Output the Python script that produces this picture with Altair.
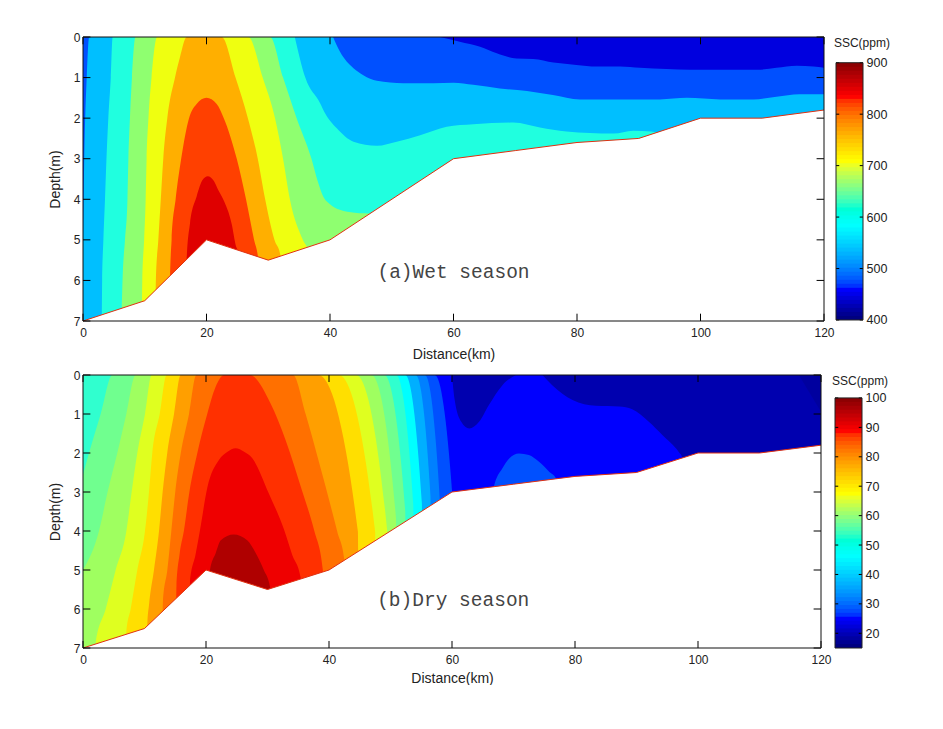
import altair as alt
import numpy as np
import pandas as pd

SANS = "Liberation Sans"
INK = "#222222"

X_TICKS = [0, 20, 40, 60, 80, 100, 120]
D_TICKS = [0, 1, 2, 3, 4, 5, 6, 7]
BED_X = [0, 10, 20, 30, 40, 60, 70, 80, 90, 100, 110, 120]
BED_D = [7, 6.5, 5, 5.5, 5, 3, 2.8, 2.6, 2.5, 2, 2, 1.8]

# ---- wet season: regions painted downwards to the bed
W_BASE_X = [0, 120]
W_BASE_D = [0, 0]
W1_X = [0, 0.2, 0.6, 1.0, 120]
W1_D = [5, 3, 1, 0, 0]
W2_X = [3.0, 3.05, 3.1, 3.3, 3.56, 3.8, 4.1, 4.5, 4.8, 120]
W2_D = [7, 6.8, 6, 5, 4, 3, 2, 1, 0, 0]
W3_X = [6.2, 6.27, 6.4, 6.8, 7.2, 7.35, 7.6, 7.93, 8.5, 30.3, 32.4, 34.6, 37, 38, 38.9, 40, 41.6, 44, 47, 47.1]
W3_D = [7, 6.7, 6, 5, 4, 3, 2, 1, 0, 0, 1, 2, 3, 3.55, 3.93, 4.12, 4.26, 4.33, 4.36, 7]
W4_X = [9.5, 9.6, 9.9, 10.15, 10.3, 10.6, 11.1, 12.0, 26.77, 29.1, 31.1, 32.4, 33.5, 35.6, 36.5, 36.6]
W4_D = [7, 6, 5, 4, 3, 2, 1, 0, 0, 1, 2, 3, 4, 5, 5.3, 7]
W5_X = [11.7, 11.8, 12.2, 12.6, 13.0, 13.65, 14.9, 15.7, 16.8, 22.46, 24.7, 26.7, 28.3, 29.5, 31.0, 32, 32.1]
W5_D = [7, 6, 5, 4, 3, 2, 1, 0.5, 0, 0, 1, 2, 3, 4, 5, 5.4, 7]
W6_X = [14.0, 14.09, 14.35, 15.0, 15.9, 17.17, 18.4, 20, 21.65, 22.8, 24.9, 26.4, 27.7, 28.4, 28.5]
W6_D = [7, 6, 5, 4, 3, 2, 1.65, 1.5, 1.65, 2, 3, 4, 5, 5.5, 7]
W7_X = [16.7, 16.79, 17.33, 18.4, 19.38, 20.2, 21.2, 21.9, 22.7, 24.07, 24.78, 25.1, 25.2]
W7_D = [7, 5.45, 4.59, 3.93, 3.52, 3.43, 3.55, 3.77, 4.0, 4.6, 5.16, 5.3, 7]
W_COLORS = ["#0050ff", "#00bfff", "#20ffdf", "#8fff70", "#efff10", "#ffaf00", "#ff4000", "#df0000"]

# ---- wet season: regions painted from the surface down to a curve
W8_X = [34.3, 36, 38.4, 39.2, 41.1, 43.8, 47.6, 50.8, 54.6, 58.9, 63.2, 69.7, 74, 78.3, 85.9, 89.1, 92, 95, 120]
W8_D = [0, 1, 1.63, 1.88, 2.25, 2.58, 2.68, 2.58, 2.42, 2.21, 2.15, 2.11, 2.23, 2.33, 2.38, 2.31, 2.33, 2.4, 2.4]
W9_X = [40.5, 41.6, 43.8, 45.4, 47.6, 51.9, 56.7, 60, 63.2, 67.5, 71.9, 76.1, 80.5, 87, 93.4, 97.8, 103.2, 108.6, 112.3, 116, 120]
W9_D = [0, 0.36, 0.77, 0.94, 1.08, 1.14, 1.14, 1.13, 1.18, 1.27, 1.33, 1.43, 1.54, 1.54, 1.54, 1.5, 1.54, 1.54, 1.47, 1.41, 1.41]
W10_X = [57.8, 61, 64.3, 67, 70.2, 72.9, 76.2, 79.9, 83.2, 87, 90.2, 94.5, 98.3, 103.2, 109.1, 112.3, 115.6, 118.3, 120]
W10_D = [0, 0.115, 0.24, 0.4, 0.53, 0.54, 0.63, 0.69, 0.73, 0.73, 0.76, 0.79, 0.81, 0.81, 0.81, 0.76, 0.71, 0.73, 0.76]
W_TOP_COLORS = ["#00bfff", "#0050ff", "#0000df"]

# ---- dry season: regions painted downwards to the bed
D0_X = [0, 120]
D0_D = [0, 0]
D1_X = [0, 57.2, 60, 60.1]
D1_D = [0, 0, 2.97, 7]
D2_X = [0, 55.6, 58, 58.1]
D2_D = [0, 0, 3.16, 7]
D3_X = [0, 54.1, 56.5, 56.6]
D3_D = [0, 0, 3.12, 7]
D4_X = [0, 52.4, 55.1, 55.2]
D4_D = [0, 0, 3.29, 7]
D5_X = [0, 50.9, 53.7, 53.8]
D5_D = [0, 0, 3.33, 7]
D6_X = [0, 0.98, 2.87, 4.77, 49, 52.4, 52.5]
D6_D = [2.55, 2, 1, 0, 0, 3.5, 7]
D7_X = [0, 2.6, 4, 5.58, 7.05, 8.56, 46.9, 50.9, 51]
D7_D = [5, 4, 3, 2, 1, 0, 0, 3.68, 7]
D8_X = [2.0, 2.06, 3.69, 5.31, 7.05, 7.91, 8.83, 10.08, 11.16, 44.4, 49.5, 49.6]
D8_D = [7, 6.88, 6, 5, 4, 3, 2, 1, 0, 0, 4.05, 7]
D9_X = [7.0, 7.05, 7.75, 8.83, 10.08, 10.73, 11.27, 12.47, 13.6, 41.6, 47.5, 47.6]
D9_D = [7, 6.6, 6, 5, 4, 3, 2, 1, 0, 0, 4.02, 7]
D10_X = [10.4, 10.46, 10.73, 11.54, 12.36, 12.95, 13.7, 14.8, 15.88, 38.26, 44.7, 44.8]
D10_D = [7, 6.4, 5.9, 5, 4, 3, 2, 1, 0, 0, 4.02, 7]
D11_X = [12.9, 13.0, 13.71, 14.36, 15.0, 15.9, 17.24, 18.43, 34.15, 36.2, 38.4, 41.35, 42.5, 42.6]
D11_D = [7, 5.8, 5, 4, 3, 2, 1, 0, 0, 1, 2.25, 4.02, 4.75, 7]
D12_X = [15.1, 15.2, 15.7, 16.4, 17.3, 18.59, 20.2, 21.57, 22.93, 27.1, 30.5, 32.95, 35.66, 37.56, 39.0, 39.1]
D12_D = [7, 5.4, 4.6, 4, 3, 2, 1, 0.3, 0, 0, 0.73, 1.67, 2.99, 3.97, 5, 7]
D13_X = [17.3, 17.4, 18.3, 19.0, 20.2, 22.1, 23.5, 24.8, 26.2, 27.5, 30.2, 32.7, 34.0, 35.4, 35.5]
D13_D = [7, 5.3, 4.6, 4, 2.9, 2.18, 1.97, 1.88, 1.97, 2.13, 3.03, 3.97, 4.6, 5.2, 7]
D14_X = [20.6, 20.65, 21.57, 22.4, 24.5, 26.7, 28.1, 29.4, 30.4, 30.5]
D14_D = [7, 5, 4.57, 4.24, 4.09, 4.24, 4.57, 5, 5.43, 7]
D15_X = [66.7, 66.8, 68.2, 69.3, 70.9, 72.5, 74.1, 75.8, 76.9, 77]
D15_D = [7, 2.87, 2.39, 2.14, 2.01, 2.05, 2.22, 2.48, 2.65, 7]
D_COLORS = ["#0000ff", "#0050ff", "#0080ff", "#00afff", "#00ffff", "#30ffcf", "#70ff8f", "#9fff60",
            "#dfff20", "#ffdf00", "#ff9f00", "#ff7000", "#ff3000", "#ef0000", "#af0000", "#0050ff"]

# ---- dry season: regions painted from the surface
D16_X = [60, 60.4, 61.5, 62.8, 64.4, 66, 68.2, 70.4]
D16_D = [0, 0.6, 1.2, 1.37, 1.2, 0.77, 0.26, 0]
D17_X = [74.7, 76.3, 79.6, 83.4, 87.2, 89.3, 92, 94.2, 96.9, 97.4, 97.5, 120]
D17_D = [0, 0.26, 0.64, 0.79, 0.81, 0.88, 1.2, 1.54, 1.98, 2.1, 7, 7]
D18_X = [116.4, 120]
D18_D = [0, 0.94]
D_TOP_COLORS = ["#0000af", "#0000af", "#00009f"]

# ---- colour bars
WET_BAR = [400, 900]
DRY_BAR = [15, 100]
WET_BAR_TICKS = [400, 500, 600, 700, 800, 900]
DRY_BAR_TICKS = [20, 30, 40, 50, 60, 70, 80, 90, 100]
JET_STOPS = [0, 0.11, 0.36, 0.61, 0.86, 1]
JET_COLORS = ["#000080", "#0000ff", "#00ffff", "#ffff00", "#ff0000", "#800000"]


def down(xs, ds, color):
    df = pd.DataFrame({"x": xs, "d": ds})
    return alt.Chart(df).mark_area(color=color, interpolate="monotone", clip=True).encode(
        x=alt.X("x:Q"), y=alt.Y("d:Q"), y2=alt.datum(7))


def from_top(xs, ds, color):
    df = pd.DataFrame({"x": xs, "d": ds})
    return alt.Chart(df).mark_area(color=color, interpolate="monotone", clip=True).encode(
        x=alt.X("x:Q"), y=alt.Y("d:Q"), y2=alt.datum(0))


def frame_ticks():
    a = pd.DataFrame({"x": X_TICKS})
    b = pd.DataFrame({"d": D_TICKS})
    style = dict(color="black", strokeWidth=1)
    return [
        alt.Chart(a).mark_rule(**style).encode(x="x:Q", y=alt.datum(0), y2=alt.datum(0.18)),
        alt.Chart(a).mark_rule(**style).encode(x="x:Q", y=alt.datum(7), y2=alt.datum(6.82)),
        alt.Chart(b).mark_rule(**style).encode(y="d:Q", x=alt.datum(0), x2=alt.datum(1.2)),
        alt.Chart(b).mark_rule(**style).encode(y="d:Q", x=alt.datum(120), x2=alt.datum(118.8)),
    ]


def panel(paint, label, label_x, label_d, w, h, title_pad):
    first = alt.Chart(pd.DataFrame({"x": [0, 120], "d": [0, 7]})).mark_point(opacity=0).encode(
        x=alt.X("x:Q", title="Distance(km)", scale=alt.Scale(domain=[0, 120], nice=False),
                axis=alt.Axis(values=X_TICKS, tickCount=len(X_TICKS), tickSize=0, domain=False, grid=False,
                              labelPadding=6, labelFont=SANS, labelFontSize=12, labelColor=INK, format="d",
                              labelOverlap=False, labelFlush=False,
                              titleFont=SANS, titleFontSize=14, titleFontWeight="normal",
                              titleColor=INK, titlePadding=title_pad)),
        y=alt.Y("d:Q", title="Depth(m)", scale=alt.Scale(domain=[0, 7], nice=False, reverse=True),
                axis=alt.Axis(values=D_TICKS, tickCount=len(D_TICKS), tickSize=0, domain=False, grid=False,
                              labelPadding=3, labelFont=SANS, labelFontSize=12, labelColor=INK, format="d",
                              labelOverlap=False, labelFlush=False,
                              titleFont=SANS, titleFontSize=14, titleFontWeight="normal",
                              titleColor=INK, titlePadding=11)),
    )
    bed = pd.DataFrame({"x": BED_X, "d": BED_D})
    white = alt.Chart(bed).mark_area(color="white").encode(x="x:Q", y="d:Q", y2=alt.datum(7))
    line = alt.Chart(bed).mark_line(color="#e03010", strokeWidth=1).encode(x="x:Q", y="d:Q")
    note = alt.Chart(pd.DataFrame({"x": [label_x], "d": [label_d], "t": [label]})).mark_text(
        font="Liberation Mono", fontSize=19.5, color="#444444").encode(x="x:Q", y="d:Q", text="t:N")
    frame = alt.Chart(pd.DataFrame({"x": [0], "x2": [120], "d": [0], "d2": [7]})).mark_rect(
        fillOpacity=0, stroke="#111111", strokeWidth=1).encode(x="x:Q", x2="x2:Q", y="d:Q", y2="d2:Q")
    return alt.layer(first, *paint, white, line, note, *frame_ticks(), frame).properties(
        width=w, height=h, view=alt.ViewConfig(stroke=None))


def colorbar(dom, scale_dom, ticks, h, title_value, title_x):
    lo, hi = dom
    levels = np.linspace(lo, hi, 65)
    df = pd.DataFrame({"v": levels[:-1], "v2": levels[1:] + (hi - lo) / 200, "x": 0, "x2": 1})
    df.loc[df.index[-1], "v2"] = hi
    stops = [lo + s * (hi - lo) for s in JET_STOPS]
    y = alt.Y("v:Q", title=None, scale=alt.Scale(domain=scale_dom, nice=False),
              axis=alt.Axis(values=ticks, tickCount=len(ticks), orient="right", tickSize=0, domain=False,
                            grid=False, labelPadding=3, labelFont=SANS, labelFontSize=12.5, labelColor=INK,
                            labelOverlap=False, labelFlush=False))
    rects = alt.Chart(df).mark_rect(strokeWidth=0).encode(
        x=alt.X("x:Q", axis=None, scale=alt.Scale(domain=[0, 1], nice=False)),
        x2="x2:Q", y=y, y2="v2:Q",
        color=alt.Color("v:Q", legend=None, scale=alt.Scale(domain=stops, range=JET_COLORS)))
    t = pd.DataFrame({"v": ticks})
    l1 = alt.Chart(t).mark_rule(color="black").encode(y="v:Q", x=alt.datum(0), x2=alt.datum(0.12))
    l2 = alt.Chart(t).mark_rule(color="black").encode(y="v:Q", x=alt.datum(1), x2=alt.datum(0.88))
    frame = alt.Chart(pd.DataFrame({"x": [0], "x2": [1], "v": [lo], "v2": [hi]})).mark_rect(
        fillOpacity=0, stroke="#222222", strokeWidth=1).encode(x="x:Q", x2="x2:Q", y="v:Q", y2="v2:Q")
    note = alt.Chart(pd.DataFrame({"x": [title_x], "v": [title_value], "t": ["SSC(ppm)"]})).mark_text(
        font=SANS, fontSize=12, color=INK).encode(x="x:Q", y="v:Q", text="t:N")
    return alt.layer(rects, l1, l2, frame, note).properties(
        width=27, height=h, view=alt.ViewConfig(stroke=None))


wet_paint = [down(x, d, c) for x, d, c in zip(
    [W_BASE_X, W1_X, W2_X, W3_X, W4_X, W5_X, W6_X, W7_X],
    [W_BASE_D, W1_D, W2_D, W3_D, W4_D, W5_D, W6_D, W7_D], W_COLORS)]
wet_paint += [from_top(x, d, c) for x, d, c in zip(
    [W8_X, W9_X, W10_X], [W8_D, W9_D, W10_D], W_TOP_COLORS)]

dry_paint = [down(x, d, c) for x, d, c in zip(
    [D0_X, D1_X, D2_X, D3_X, D4_X, D5_X, D6_X, D7_X, D8_X, D9_X, D10_X, D11_X, D12_X, D13_X, D14_X, D15_X],
    [D0_D, D1_D, D2_D, D3_D, D4_D, D5_D, D6_D, D7_D, D8_D, D9_D, D10_D, D11_D, D12_D, D13_D, D14_D, D15_D],
    D_COLORS)]
dry_paint += [from_top(x, d, c) for x, d, c in zip(
    [D16_X, D17_X, D18_X], [D16_D, D17_D, D18_D], D_TOP_COLORS)]

top = alt.hconcat(
    panel(wet_paint, "(a)Wet season", 60, 5.79, 741, 284, 9),
    colorbar(WET_BAR, [398, 950], WET_BAR_TICKS, 284, 939, 0.96),
    spacing=-2).resolve_scale(color="independent")
bottom = alt.hconcat(
    panel(dry_paint, "(b)Dry season", 60.2, 5.77, 738, 273, 6),
    colorbar(DRY_BAR, [15, 107.8], DRY_BAR_TICKS, 273, 105.8, 0.93),
    spacing=0).resolve_scale(color="independent")

chart = alt.vconcat(top, bottom, spacing=8).resolve_scale(color="independent").properties(
    padding={"left": 40, "top": 23, "right": 0, "bottom": 0},
    background="white",
)

chart.save("out.html", embed_options={"renderer": "svg", "actions": False})
